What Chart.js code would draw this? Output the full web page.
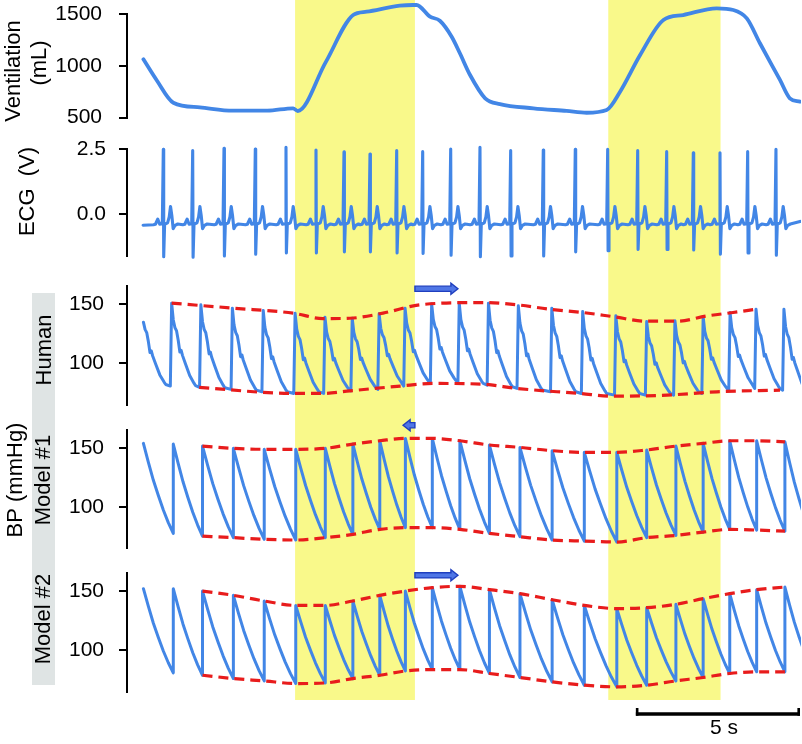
<!DOCTYPE html>
<html><head><meta charset="utf-8">
<script src="https://cdn.jsdelivr.net/npm/chart.js@4.4.1/dist/chart.umd.min.js"></script>
<style>
html,body{margin:0;padding:0;background:#fff;}
#wrap{position:relative;width:802px;height:744px;overflow:hidden;background:#fff;}
canvas{position:absolute;left:0;}
</style></head><body>
<div id="wrap">
<canvas id="cVent" width="802" height="132" style="top:0px;width:802px;height:132px"></canvas>
<canvas id="cEcg" width="802" height="148" style="top:132px;width:802px;height:148px"></canvas>
<canvas id="cHum" width="802" height="138" style="top:280px;width:802px;height:138px"></canvas>
<canvas id="cM1" width="802" height="144" style="top:418px;width:802px;height:144px"></canvas>
<canvas id="cM2" width="802" height="182" style="top:562px;width:802px;height:182px"></canvas>
</div>
<script>
// ---------------- DATA (time in seconds) ----------------
const X_MAX = 20.5;
const BANDS = [[5.12, 8.77], [14.66, 18.08]];
const SCALE_BAR = [15.5, 20.5];
const SCALE_LABEL = '5 s';

// Ventilation (mL)
const VENT_T = [0.50, 0.90, 1.41, 2.22, 3.23, 4.27, 5.06, 5.20, 6.05, 6.89, 7.30, 8.31, 8.71, 8.82, 9.23, 9.53, 9.89, 10.14, 10.45, 10.91, 11.36, 12.38, 13.39, 14.00, 14.61, 15.02, 15.63, 16.34, 16.94, 17.96, 18.47, 18.88, 19.28, 19.89, 20.19, 20.50];
const VENT_V = [1065, 865, 645, 600, 568, 568, 591, 565, 1035, 1493, 1525, 1583, 1590, 1590, 1477, 1438, 1283, 1123, 913, 688, 632, 591, 565, 548, 574, 751, 1106, 1445, 1493, 1558, 1542, 1461, 1220, 865, 688, 655];
const VENT_TICKS = [500, 1000, 1500];

// ECG (V): R-peak times, R and S amplitudes, beat shape (dt, value)
const ECG_R_T = [1.106, 2.001, 2.955, 3.908, 4.843, 5.757, 6.610, 7.402, 8.215, 9.007, 9.860, 10.752, 11.687, 12.680, 13.655, 14.642, 15.556, 16.439, 17.250, 18.063, 18.906, 19.768];
const ECG_R = [2.50, 2.45, 2.54, 2.51, 2.58, 2.47, 2.40, 2.32, 2.45, 2.41, 2.51, 2.58, 2.45, 2.47, 2.50, 2.50, 2.45, 2.41, 2.37, 2.37, 2.41, 2.50];
const ECG_S = [-1.63, -1.65, -1.60, -1.53, -1.48, -1.48, -1.44, -1.44, -1.48, -1.50, -1.57, -1.63, -1.60, -1.60, -1.44, -1.40, -1.35, -1.35, -1.37, -1.53, -1.48, -1.57];
const ECG_SHAPE = [[-0.30, -0.40], [-0.24, -0.38], [-0.17, -0.18], [-0.11, -0.38], [-0.03, -0.36], [0.04, -0.38], [0.13, -0.33], [0.18, -0.10], [0.22, 0.30], [0.26, -0.05], [0.30, -0.55], [0.36, -0.42], [0.44, -0.37]];
const ECG_START = [0.49, -0.42];
const ECG_END = [20.5, -0.27];
const ECG_TICKS = [0, 2.5];

// Human BP (mmHg): beat peak times, systolic, diastolic (minimum before next beat)
const HUM_T = [0.45, 1.36, 2.25, 3.21, 4.15, 5.12, 6.03, 6.86, 7.68, 8.47, 9.28, 10.12, 11.01, 11.92, 12.94, 13.88, 14.89, 15.83, 16.69, 17.55, 18.37, 19.16, 20.01];
const HUM_SYS = [148, 150.6, 149.2, 146.4, 144.4, 142.2, 138.8, 137.9, 141.6, 146.4, 150.0, 150.6, 150.6, 148.3, 146.4, 143.5, 139.9, 135.1, 135.9, 139.3, 142.7, 145.5, 145.5];
const HUM_DIA = [80.9, 79.8, 78.1, 76.1, 74.7, 74.7, 76.9, 78.1, 80.9, 83.1, 84.5, 81.7, 78.9, 76.1, 74.7, 73.3, 73.3, 73.3, 74.7, 77.5, 78.9, 77.5, 73.0];
const HUM_SHAPE = [[0.05, 0.80], [0.10, 0.71], [0.15, 0.67], [0.20, 0.56], [0.25, 0.42], [0.29, 0.44], [0.33, 0.38], [0.42, 0.28], [0.55, 0.14], [0.68, 0.05], [0.73, 0.02]];
const HUM_ENV_UP_T = [1.36, 3.23, 5.06, 5.97, 6.79, 7.80, 8.92, 10.84, 11.88, 12.88, 13.89, 14.80, 15.84, 16.75, 17.67, 18.46, 19.16];
const HUM_ENV_UP_V = [150.6, 146.4, 142.2, 137.6, 137.9, 142.2, 149.2, 151.1, 149.2, 145.5, 142.7, 139.3, 135.4, 135.4, 139.9, 142.7, 145.5];
const HUM_ENV_LO_T = [2.20, 5.06, 5.93, 6.79, 8.32, 9.32, 10.84, 11.88, 13.80, 14.80, 16.45, 17.97, 19.89];
const HUM_ENV_LO_V = [79.8, 74.7, 74.7, 76.9, 80.9, 83.1, 82.5, 78.9, 74.7, 72.4, 73.3, 76.1, 77.5];
const HUM_ARROW = [8.77, 10.08, 162.7];

// Models (mmHg): shared beat times, systolic peaks, diastolic (end of each tooth)
const BEAT_T = [0.50, 1.41, 2.30, 3.24, 4.18, 5.14, 6.04, 6.88, 7.70, 8.48, 9.30, 10.14, 11.04, 11.97, 12.95, 13.93, 14.92, 15.83, 16.72, 17.55, 18.36, 19.18, 20.04];
const M1_SYS = [153.7, 153.1, 151.4, 149.5, 148.7, 148.7, 149.5, 153.1, 155.9, 157.9, 157.9, 155.9, 152.3, 150.3, 147.5, 146.1, 146.1, 148.1, 151.4, 153.7, 155.9, 155.9, 155.0];
const M1_DIA = [77.6, 75.3, 74.0, 72.6, 72.0, 74.0, 76.8, 81.0, 82.4, 82.4, 81.0, 77.6, 74.8, 72.0, 71.1, 70.3, 74.0, 75.9, 78.7, 81.0, 80.4, 79.5, 71.8];
const M2_SYS = [152.0, 152.0, 150.0, 146.4, 141.6, 137.9, 137.9, 141.6, 146.4, 150.0, 152.9, 154.0, 151.2, 147.8, 142.7, 137.9, 135.2, 136.0, 138.8, 143.6, 147.8, 151.2, 153.4];
const M2_DIA = [80.9, 78.9, 76.1, 74.1, 71.9, 72.4, 76.1, 78.9, 82.5, 83.7, 83.7, 80.4, 77.0, 73.3, 70.5, 69.1, 70.5, 74.1, 77.0, 80.4, 81.8, 81.8, 81.1];
const SAW_SHAPE = [1, 0.79, 0.59, 0.42, 0.26, 0.12, 0];
const ENV_FROM = 2;
const M1_ARROW = [8.77, 8.41, 169];
const M2_ARROW = [8.77, 10.08, 163.3];
const BP_TICKS = [100, 150];

// ---------------- STYLE ----------------
const FONT = '"Liberation Sans", Arial, sans-serif';
const BLUE = '#4286e6';
const RED = '#e81c1c';
const YELLOW = '#f9f98a';
const GRAY = '#dfe4e4';
Chart.defaults.font.family = FONT;
Chart.defaults.color = '#000';

// ---------------- BUILD SERIES ----------------
function xy(ts, vs) { return ts.map((t, i) => ({x: t, y: vs[i]})); }
function ecgPoints() {
  const pts = [{x: ECG_START[0], y: ECG_START[1]}];
  ECG_R_T.forEach((t, i) => {
    ECG_SHAPE.forEach(([dt, v]) => { if (dt < 0) pts.push({x: t + dt, y: v}); });
    pts.push({x: t, y: ECG_R[i]});
    pts.push({x: t + 0.012, y: ECG_S[i]});
    ECG_SHAPE.forEach(([dt, v]) => { if (dt > 0) pts.push({x: t + dt, y: v}); });
  });
  pts.push({x: ECG_END[0], y: ECG_END[1]});
  return pts;
}
function humanPoints() {
  const pts = [];
  for (let i = 0; i < HUM_T.length; i++) {
    const tp = HUM_T[i], s = HUM_SYS[i], d = HUM_DIA[i];
    const last = i + 1 >= HUM_T.length;
    const tn = last ? X_MAX + 2 : HUM_T[i + 1];
    pts.push({x: tp, y: s});
    HUM_SHAPE.forEach(([dt, f]) => { if (tp + dt < tn - 0.06) pts.push({x: tp + dt, y: d + f * (s - d)}); });
    if (!last) pts.push({x: tn - 0.04, y: d});
  }
  return pts.filter(p => p.x >= 0.49);
}
function modelPoints(sys, dia) {
  const pts = [];
  const n = SAW_SHAPE.length - 1;
  for (let i = 0; i < BEAT_T.length; i++) {
    const tp = BEAT_T[i];
    const tn = i + 1 < BEAT_T.length ? BEAT_T[i + 1] : tp + (BEAT_T[i] - BEAT_T[i - 1]);
    SAW_SHAPE.forEach((f, k) => pts.push({x: tp + (tn - tp) * k / n, y: dia[i] + f * (sys[i] - dia[i])}));
  }
  return pts;
}
function envUp(sys) { const p = []; for (let i = ENV_FROM; i < BEAT_T.length; i++) p.push({x: BEAT_T[i], y: sys[i]}); return p; }
function envLo(dia) { const p = []; for (let i = ENV_FROM; i < BEAT_T.length; i++) p.push({x: BEAT_T[i], y: dia[i - 1]}); return p; }

// ---------------- PLUGINS ----------------
function bandsPlugin(bottom) {
  return { id: 'bands', beforeDraw(chart) {
    const xs = chart.scales.x, ctx = chart.ctx;
    ctx.save(); ctx.fillStyle = YELLOW;
    BANDS.forEach(([a, b]) => {
      const x0 = xs.getPixelForValue(a), x1 = xs.getPixelForValue(b);
      ctx.fillRect(x0, 0, x1 - x0, bottom == null ? chart.height : bottom);
    });
    ctx.restore();
  }};
}
function sideTextPlugin(box, items) {
  return { id: 'sideText', afterDraw(chart) {
    const ctx = chart.ctx; ctx.save();
    if (box) { ctx.fillStyle = GRAY; ctx.fillRect(box[0], box[1], box[2] - box[0], box[3] - box[1]); }
    ctx.fillStyle = '#000'; ctx.font = '22px ' + FONT;
    ctx.textAlign = 'center'; ctx.textBaseline = 'middle';
    items.forEach(([text, x, y]) => { ctx.save(); ctx.translate(x, y); ctx.rotate(-Math.PI / 2); ctx.fillText(text, 0, 0); ctx.restore(); });
    ctx.restore();
  }};
}
function arrowPlugin(arr) {
  return { id: 'arrow', afterDatasetsDraw(chart) {
    const xs = chart.scales.x, ys = chart.scales.y, ctx = chart.ctx;
    const x0 = xs.getPixelForValue(arr[0]), x1 = xs.getPixelForValue(arr[1]), y = ys.getPixelForValue(arr[2]);
    const dir = x1 > x0 ? 1 : -1, head = 7, hh = 5.5, sh = 2.6;
    const xb = x1 - dir * head;
    ctx.save();
    ctx.beginPath();
    ctx.moveTo(x0, y - sh); ctx.lineTo(xb, y - sh); ctx.lineTo(xb, y - hh); ctx.lineTo(x1, y);
    ctx.lineTo(xb, y + hh); ctx.lineTo(xb, y + sh); ctx.lineTo(x0, y + sh); ctx.closePath();
    ctx.fillStyle = '#4f76e6'; ctx.fill();
    ctx.strokeStyle = '#1f3fbf'; ctx.lineWidth = 1.4; ctx.lineJoin = 'miter'; ctx.stroke();
    ctx.restore();
  }};
}
function scaleBarPlugin(yPix, labelY) {
  return { id: 'scaleBar', afterDraw(chart) {
    const xs = chart.scales.x, ctx = chart.ctx;
    const x0 = xs.getPixelForValue(SCALE_BAR[0]), x1 = xs.getPixelForValue(SCALE_BAR[1]);
    ctx.save(); ctx.strokeStyle = '#000'; ctx.lineWidth = 3.5; ctx.lineCap = 'butt';
    ctx.beginPath(); ctx.moveTo(x0, yPix); ctx.lineTo(x1, yPix); ctx.stroke();
    ctx.lineWidth = 2.6;
    ctx.beginPath(); ctx.moveTo(x0 + 1.3, yPix - 6); ctx.lineTo(x0 + 1.3, yPix + 1.7);
    ctx.moveTo(x1 - 1.3, yPix - 6); ctx.lineTo(x1 - 1.3, yPix + 1.7); ctx.stroke();
    ctx.fillStyle = '#000'; ctx.font = '21px ' + FONT; ctx.textAlign = 'center'; ctx.textBaseline = 'middle';
    ctx.fillText(SCALE_LABEL, (x0 + x1) / 2 + 6, labelY);
    ctx.restore();
  }};
}

// ---------------- CHART FACTORY ----------------
function blueLine(data, width, mono) {
  return { data, borderColor: BLUE, borderWidth: width, pointRadius: 0, fill: false,
    tension: 0, cubicInterpolationMode: mono ? 'monotone' : 'default',
    borderJoinStyle: 'round', borderCapStyle: 'round',
    clip: {left: false, top: false, right: 1, bottom: false} };
}
function redDash(data) {
  return { data, borderColor: RED, borderWidth: 3.2, borderDash: [10, 6], pointRadius: 0, fill: false,
    cubicInterpolationMode: 'monotone', clip: false };
}
function makeChart(id, o) {
  return new Chart(document.getElementById(id), {
    type: 'line',
    data: { datasets: o.datasets },
    options: {
      responsive: false, maintainAspectRatio: false, animation: false, devicePixelRatio: 1,
      events: [],
      layout: { padding: { top: o.padTop, bottom: o.padBottom, left: 0, right: 2 } },
      plugins: { legend: { display: false }, tooltip: { enabled: false } },
      scales: {
        x: { type: 'linear', min: 0, max: X_MAX, display: false },
        y: {
          type: 'linear', min: o.min, max: o.max,
          afterFit: s => { s.width = 127; s.paddingTop = 0; s.paddingBottom = 0; },
          afterBuildTicks: s => { s.ticks = o.ticks.map(v => ({ value: v })); },
          ticks: { font: { size: 21, family: FONT }, color: '#000', padding: o.tickPad, callback: o.fmt || (v => String(v)) },
          grid: { display: true, drawOnChartArea: false, drawTicks: true, tickLength: 8, tickWidth: 2, color: '#000', lineWidth: 2 },
          border: { display: true, color: '#000', width: 2 }
        }
      }
    },
    plugins: o.plugins
  });
}

// Ventilation
makeChart('cVent', {
  padTop: 14.3, padBottom: 14.3, min: 500, max: 1500, ticks: VENT_TICKS, tickPad: 17,
  datasets: [blueLine(xy(VENT_T, VENT_V), 3.8, true)],
  plugins: [bandsPlugin(null), sideTextPlugin(null, [['Ventilation', 13.5, 71], ['(mL)', 40, 63]])]
});
// ECG
makeChart('cEcg', {
  padTop: 17.3, padBottom: 24, min: -1.6, max: 2.5, ticks: ECG_TICKS, tickPad: 13, fmt: v => v.toFixed(1),
  datasets: [blueLine(ecgPoints(), 3.1, false)],
  plugins: [bandsPlugin(null), sideTextPlugin(null, [['ECG  (V)', 28, 59.5]])]
});
// Human BP
makeChart('cHum', {
  padTop: 6, padBottom: 13, min: 65, max: 165, ticks: BP_TICKS, tickPad: 15,
  datasets: [redDash(xy(HUM_ENV_UP_T, HUM_ENV_UP_V)), redDash(xy(HUM_ENV_LO_T, HUM_ENV_LO_V)), blueLine(humanPoints(), 3, false)],
  plugins: [bandsPlugin(null), arrowPlugin(HUM_ARROW), sideTextPlugin([32, 13, 55, 138], [['Human', 44.5, 70]])]
});
// Model #1
makeChart('cM1', {
  padTop: 12, padBottom: 13.7, min: 65, max: 165, ticks: BP_TICKS, tickPad: 15,
  datasets: [redDash(envUp(M1_SYS)), redDash(envLo(M1_DIA)), blueLine(modelPoints(M1_SYS, M1_DIA), 3, false)],
  plugins: [bandsPlugin(null), arrowPlugin(M1_ARROW), sideTextPlugin([32, 0, 55, 144], [['Model #1', 44, 62], ['BP (mmHg)', 16, 62]])]
});
// Model #2
makeChart('cM2', {
  padTop: 11.3, padBottom: 52.3, min: 65, max: 165, ticks: BP_TICKS, tickPad: 15,
  datasets: [redDash(envUp(M2_SYS)), redDash(envLo(M2_DIA)), blueLine(modelPoints(M2_SYS, M2_DIA), 3, false)],
  plugins: [bandsPlugin(138), arrowPlugin(M2_ARROW), sideTextPlugin([32, 0, 55, 123], [['Model #2', 44, 57]]), scaleBarPlugin(152, 166.5)]
});
</script>
</body></html>
